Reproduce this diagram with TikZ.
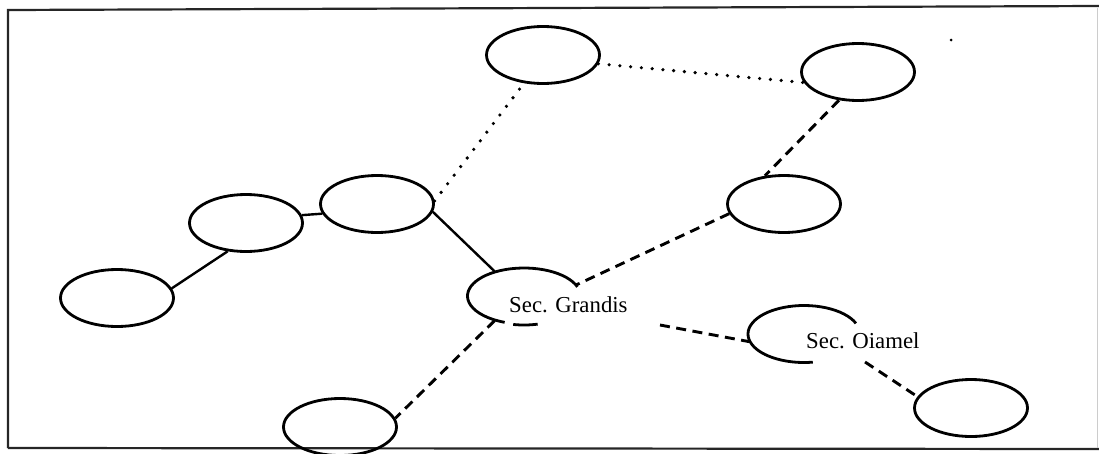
\documentclass[tikz,border=0pt]{standalone}
\usepackage{fontspec}
\setmainfont{Liberation Serif}
\usetikzlibrary{shapes.geometric}
\begin{document}
\begin{tikzpicture}[x=1pt,y=-1pt,
  oval/.style={ellipse,draw,line width=2.8pt,inner sep=0pt,minimum width=113pt,minimum height=57pt},
  hollow/.style={ellipse,inner sep=0pt,minimum width=113pt,minimum height=57pt},
  label/.style={font=\fontsize{22.8}{26}\selectfont,inner sep=0pt,anchor=base west},
  solidlink/.style={line width=2.4pt},
  dashlink/.style={line width=2.9pt,dash pattern=on 10pt off 6.5pt},
  dotlink/.style={line width=3.6pt,line cap=round,dash pattern=on 0pt off 10.8pt},
  frameline/.style={line width=2.2pt,black!85}]
\useasboundingbox (0,0) rectangle (1099,453);

% frame
\draw[frameline] (8,448) -- (8,10) -- (1099,6);
\draw[frameline] (8,448) -- (1099,449);
\draw[line width=1pt,black!20] (1097,8) -- (1097,448);

% ovals
\node[oval] (top)    at (543,55)  {};
\node[oval] (topr)   at (858,72)  {};
\node[oval] (midr)   at (784,204) {};
\node[oval] (midl)   at (377,204) {};
\node[oval] (left)   at (246,223) {};
\node[oval] (farl)   at (117,298) {};
\node[oval] (bot)    at (340,427) {};
\node[oval] (botr)   at (971,408) {};

% section ovals, broken by their labels
\node[hollow] (grandis) at (524,296) {};
\node[hollow] (oiamel)  at (804,334) {};
\draw[line width=2.8pt] ([shift={(grandis.center)}]19:56.5pt and 28pt)
  arc[start angle=19,end angle=250,x radius=56.5pt,y radius=28pt];
\draw[line width=2.8pt] ([shift={(grandis.center)}]259:56.5pt and 29pt)
  arc[start angle=259,end angle=284,x radius=56.5pt,y radius=29pt];
\draw[line width=2.8pt] ([shift={(oiamel.center)}]22:56pt and 28.5pt)
  arc[start angle=22,end angle=279,x radius=56pt,y radius=28.5pt];
\node[label] (grandislabel) at (509,312) {Sec. Grandis};
\node[label] (oiamellabel)  at (806,348) {Sec. Oiamel};

\coordinate (gout) at (660,325);
\coordinate (oout) at (865,362);

% connectors
\draw[solidlink] (farl.10) -- (left.237);
\draw[solidlink] (left.8) -- (midl.190);
\draw[solidlink] (midl.-8) -- (grandis.140);
\draw[dotlink] (midl.3) -- (top.236);
\draw[dotlink] (top.-9) -- (topr.191);
\draw[dashlink] (topr.236) -- (midr.124);
\draw[dashlink] (midr.190) -- (grandis.12);
\draw[dashlink] (grandis.220) -- (bot.9);
\draw[dashlink] (gout) -- (oiamel.188);
\draw[dashlink] (oout) -- (botr.168);

% speck
\fill (951,40) circle (1.5pt);
\end{tikzpicture}
\end{document}
